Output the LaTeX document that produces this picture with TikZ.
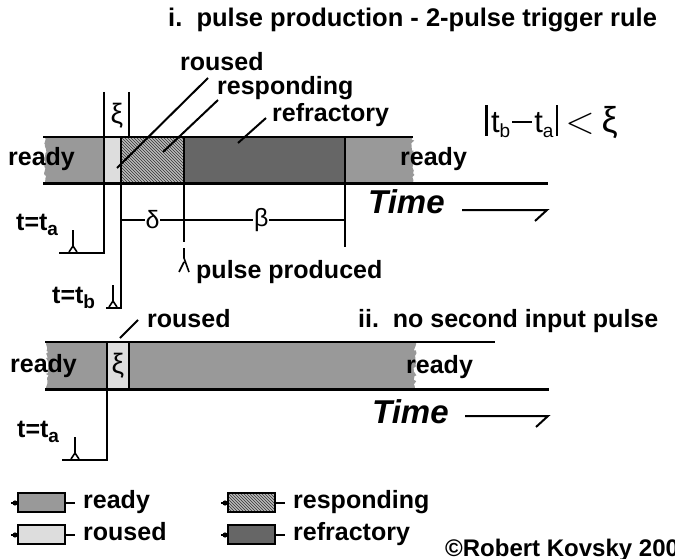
\documentclass[tikz,border=0pt]{standalone}
\usepackage{fontspec}
\usepackage{graphicx}
\setmainfont{Liberation Sans}
\usetikzlibrary{patterns,decorations.pathmorphing}
\definecolor{readyc}{HTML}{999999}
\definecolor{rousedc}{HTML}{DDDDDD}
\definecolor{refrc}{HTML}{666666}
\definecolor{respc}{HTML}{BBBBBB}
\newcommand{\lowsub}[1]{\lower5pt\hbox{\fontsize{19}{20}\selectfont #1}}
\tikzset{
  lbl/.style={font=\bfseries\fontsize{25}{27}\selectfont, inner sep=0pt, anchor=base west},
  ttl/.style={font=\bfseries\fontsize{25.5}{28}\selectfont, inner sep=0pt, anchor=base west},
  timelbl/.style={font=\bfseries\itshape\fontsize{33}{36}\selectfont, inner sep=0pt, anchor=base west},
  greek/.style={font=\fontsize{28}{30}\selectfont, inner sep=0pt},
  thin/.style={line width=1.2pt},
  thick3/.style={line width=3pt},
  divider/.style={line width=2pt},
  leader/.style={line width=2pt},
  jag/.style={decoration={random steps,segment length=2.5pt,amplitude=1.6pt}},
  swatch/.style={draw, line width=2pt},
  pulse/.style={line width=1.6pt},
}
\newcommand{\pulseglyph}[2]{% x, bottom y
  \draw[pulse] (#1,#2-22) -- (#1,#2-6) -- (#1+4,#2) (#1,#2-6) -- (#1-4,#2);}
\begin{document}
\begin{tikzpicture}[x=1pt,y=-1pt]
\useasboundingbox (0,0) rectangle (675,559);
% ---------------- Panel i ----------------
\node[ttl] (title1) at (168,27) {i.\ \ pulse production - 2-pulse trigger rule};
% fills
\fill[readyc] (104,137) -- (45,137) decorate[jag]{-- (45,183)} -- (104,183) -- cycle;
\fill[rousedc] (104,137) rectangle (121,183);
\fill[respc] (121,137) rectangle (184,183);
\fill[pattern=north west lines, pattern color=black!80] (121,137) rectangle (184,183);
\fill[refrc] (184,137) rectangle (345,183);
\fill[readyc] (345,137) -- (413,137) decorate[jag]{-- (413,183)} -- (345,183) -- cycle;
% band lines
\coordinate (b1tl) at (43,137); \coordinate (b1tr) at (413,137);
\coordinate (b1bl) at (43,184); \coordinate (b1br) at (548,184);
\draw[thin] (b1tl) -- (b1tr);
\draw[thick3] (b1bl) -- (b1br);
% dividers and xi bracket
\coordinate (xa) at (104,92); \coordinate (xb) at (129,92);
\coordinate (xaa) at (104,137); \coordinate (xbb) at (129,137);
\draw[thin] (xa) -- (xaa);
\draw[thin] (xb) -- (xbb);
\draw[thin] (104,137) -- (104,183);
\draw[thin] (121,137) -- (121,183);
\draw[divider] (184,137) -- (184,183);
\draw[divider] (345,137) -- (345,183);
\node[greek] (xi1) at (117,116) {ξ};
% labels
\node[lbl] (ready1l) at (8,166) {ready};
\node[lbl] (ready1r) at (400,166) {ready};
\node[lbl] (roused1) at (180,71) {roused};
\node[lbl] (resp1) at (217,95) {responding};
\node[lbl] (refr1) at (272,122) {refractory};
\coordinate (rl1a) at (117,168); \coordinate (rl1b) at (208,78);
\coordinate (rs1a) at (163,152); \coordinate (rs1b) at (218,100);
\coordinate (rf1a) at (238,143); \coordinate (rf1b) at (266,118);
\draw[leader] (rl1a) -- (rl1b);
\draw[leader] (rs1a) -- (rs1b);
\draw[leader] (rf1a) -- (rf1b);
\node[font=\fontsize{31}{33}\selectfont, inner sep=0pt, anchor=base west] (rule) at (485,133) {\rule[-3pt]{2.8pt}{31pt}\hspace{3pt}t\lowsub{b}\hspace{2pt}\rule[0.32em]{0.65em}{2.2pt}\hspace{2pt}t\lowsub{a}\hspace{2pt}\rule[-3pt]{2.8pt}{31pt}\hspace{7pt}\raisebox{-1pt}{\scalebox{1.55}{$<$}}\hspace{7pt}{\fontsize{36}{38}\selectfont ξ}};
% time arrow
\node[timelbl] (time1) at (368,213) {Time};
\coordinate (ta1) at (462,210); \coordinate (tb1) at (547,210); \coordinate (tc1) at (535,221);
\draw[line width=2pt] (ta1) -- (tb1) -- (tc1);
% timing lines below
\coordinate (pa) at (104,184); \coordinate (pa2) at (104,253); \coordinate (pa3) at (59,253);
\coordinate (pb) at (121,184); \coordinate (pb2) at (121,308); \coordinate (pb3) at (106,308);
\coordinate (pc) at (184,184); \coordinate (pc2) at (184,242);
\coordinate (pd) at (345,184); \coordinate (pd2) at (345,247);
\draw[thin] (pa) -- (pa2) -- (pa3);
\draw[thin] (pb) -- (pb2) -- (pb3);
\draw[thin] (pc) -- (pc2);
\draw[thin] (pd) -- (pd2);
\coordinate (dl) at (121,220); \coordinate (dm) at (184,220); \coordinate (dr) at (345,220);
\draw[thin] (dl) -- node[fill=white, inner sep=1pt, font=\fontsize{25}{27}\selectfont] (delta) {δ} (dm);
\draw[thin] (dm) -- node[fill=white, inner sep=1pt, font=\fontsize{25}{27}\selectfont, pos=0.48] (beta) {β} (dr);
\node[lbl] (ta) at (16,230) {t=t\lowsub{a}};
\pulseglyph{73}{252}
\node[lbl] (tb) at (52,303) {t=t\lowsub{b}};
\pulseglyph{113}{307}
\node[lbl] (pprod) at (196,278) {pulse produced};
\draw[pulse] (184,248) -- (184,258) -- (189,272) (184,262) -- (179,272);
% ---------------- Panel ii ----------------
\node[lbl] (title2) at (358,327) {ii.\ \ no second input pulse};
\fill[readyc] (107,342) -- (47,342) decorate[jag]{-- (47,389)} -- (107,389) -- cycle;
\fill[rousedc] (107,342) rectangle (129,389);
\fill[readyc] (129,342) -- (415,342) decorate[jag]{-- (415,389)} -- (129,389) -- cycle;
\coordinate (b2tl) at (45,342); \coordinate (b2tr) at (495,342);
\coordinate (b2bl) at (45,389); \coordinate (b2br) at (549,389);
\draw[thin] (b2tl) -- (b2tr);
\draw[thick3] (b2bl) -- (b2br);
\draw[thin] (107,342) -- (107,389);
\draw[thin] (129,342) -- (129,389);
\node[greek] (xi2) at (118,366) {ξ};
\node[lbl] (ready2l) at (10,372) {ready};
\node[lbl] (ready2r) at (406,373) {ready};
\node[lbl] (roused2) at (147,327) {roused};
\coordinate (rl2a) at (120,338); \coordinate (rl2b) at (138,320);
\draw[leader] (rl2a) -- (rl2b);
\node[timelbl] (time2) at (372,423) {Time};
\coordinate (ta2) at (465,416); \coordinate (tb2) at (548,416); \coordinate (tc2) at (536,427);
\draw[line width=2pt] (ta2) -- (tb2) -- (tc2);
\coordinate (qa) at (107,389); \coordinate (qa2) at (107,460); \coordinate (qa3) at (62,460);
\draw[thin] (qa) -- (qa2) -- (qa3);
\node[lbl] (ta2l) at (17,437) {t=t\lowsub{a}};
\pulseglyph{75}{459}
% ---------------- Legend ----------------
\foreach \x/\y/\c/\t/\n/\b in {18/493/readyc/ready/lg1/508, 18/525/rousedc/roused/lg2/540, 228/525/refrc/refractory/lg4/540}{
  \draw[line width=1.5pt] (\x-7,\y+10) -- (\x,\y+10) (\x+47,\y+10) -- (\x+57,\y+10);
  \fill (\x-3,\y+10) circle (2.6pt);
  \draw[swatch, fill=\c] (\x,\y) rectangle (\x+47,\y+19);
  \node[lbl] (\n) at (\x+65,\b) {\t};
}
\draw[line width=1.5pt] (221,503) -- (228,503) (275,503) -- (285,503);
\fill (225,503) circle (2.6pt);
\draw[swatch, fill=respc] (228,493) rectangle (275,512);
\fill[pattern=north west lines, pattern color=black!80] (228,493) rectangle (275,512);
\draw[swatch] (228,493) rectangle (275,512);
\node[lbl] (lg3) at (293,508) {responding};
\node[lbl, font=\bfseries\fontsize{24}{26}\selectfont] (copy) at (445,556) {©Robert Kovsky 200};
\end{tikzpicture}
\end{document}
